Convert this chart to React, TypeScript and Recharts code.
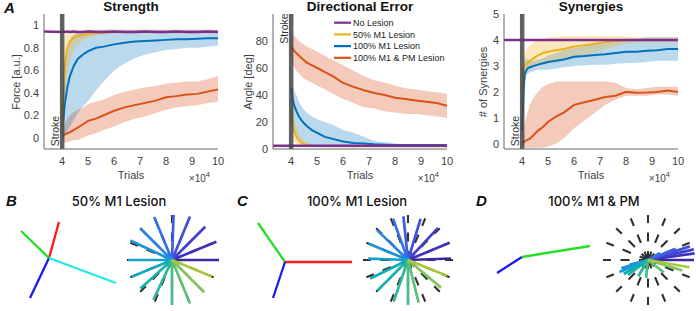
import React from 'react';
import {
  ComposedChart,
  Line,
  Area,
  XAxis,
  YAxis,
  ReferenceLine,
  ScatterChart,
  Scatter,
} from 'recharts';

// ---- top row: learning curves (x in units of 1e4 trials) ----
const trials = [3.3, 4, 4.05, 4.1, 4.2, 4.3, 4.45, 4.6, 4.8, 5, 5.3, 5.6, 6, 6.4, 6.8, 7.2, 7.6, 8, 8.4, 8.8, 9.2, 9.6, 10];
const trialTicks = [4, 5, 6, 7, 8, 9, 10];
const strokeTrial = 4;

const seriesNames = ['No Lesion', '50% M1 Lesion', '100% M1 Lesion', '100% M1 & PM Lesion'];
const seriesColors = ['#7E2F8E', '#EDB120', '#0072BD', '#D95319'];

// Strength
const strengthNone = [0.945, 0.94, 0.945, 0.94, 0.945, 0.94, 0.945, 0.94, 0.94, 0.945, 0.94, 0.94, 0.945, 0.94, 0.94, 0.945, 0.94, 0.94, 0.945, 0.94, 0.94, 0.945, 0.94];
const strengthM50 = [null, 0.05, 0.4, 0.65, 0.8, 0.86, 0.89, 0.905, 0.915, 0.92, 0.93, 0.935, 0.94, 0.94, 0.94, 0.94, 0.94, 0.94, 0.94, 0.94, 0.94, 0.94, 0.94];
const strengthM50Lo = [null, 0.0, 0.15, 0.35, 0.55, 0.68, 0.78, 0.83, 0.87, 0.89, 0.91, 0.92, 0.925, 0.93, 0.93, 0.93, 0.93, 0.93, 0.93, 0.93, 0.93, 0.93, 0.93];
const strengthM50Hi = [null, 0.1, 0.75, 0.9, 0.95, 0.96, 0.96, 0.96, 0.96, 0.96, 0.96, 0.96, 0.96, 0.96, 0.96, 0.96, 0.96, 0.96, 0.96, 0.96, 0.96, 0.96, 0.96];
const strengthM100 = [null, 0.05, 0.18, 0.3, 0.45, 0.55, 0.64, 0.7, 0.74, 0.77, 0.8, 0.81, 0.83, 0.845, 0.855, 0.86, 0.865, 0.87, 0.875, 0.875, 0.88, 0.885, 0.885];
const strengthM100Lo = [null, 0.0, 0.0, 0.02, 0.06, 0.1, 0.16, 0.22, 0.28, 0.33, 0.42, 0.5, 0.6, 0.66, 0.71, 0.74, 0.76, 0.78, 0.79, 0.8, 0.8, 0.81, 0.82];
const strengthM100Hi = [null, 0.1, 0.4, 0.62, 0.8, 0.88, 0.92, 0.94, 0.95, 0.96, 0.96, 0.96, 0.96, 0.96, 0.96, 0.96, 0.96, 0.96, 0.96, 0.96, 0.96, 0.96, 0.96];
const strengthPm = [null, 0.01, 0.02, 0.03, 0.04, 0.05, 0.07, 0.09, 0.12, 0.15, 0.17, 0.2, 0.24, 0.27, 0.29, 0.31, 0.33, 0.36, 0.37, 0.385, 0.39, 0.41, 0.43];
const strengthPmLo = [null, -0.03, -0.04, -0.04, -0.04, -0.03, -0.02, -0.02, 0.0, 0.02, 0.04, 0.07, 0.1, 0.14, 0.17, 0.19, 0.22, 0.25, 0.27, 0.28, 0.29, 0.31, 0.32];
const strengthPmHi = [null, 0.05, 0.08, 0.12, 0.17, 0.2, 0.23, 0.25, 0.27, 0.3, 0.32, 0.34, 0.38, 0.41, 0.43, 0.45, 0.46, 0.48, 0.49, 0.5, 0.5, 0.52, 0.55];

// Directional error
const errorNone = [2.5, 2.5, 2.5, 2.5, 2.5, 2.5, 2.5, 2.5, 2.5, 2.5, 2.5, 2.5, 2.5, 2.5, 2.5, 2.5, 2.5, 2.5, 2.5, 2.5, 2.5, 2.5, 2.5];
const errorM50 = [null, 30, 20, 14, 9, 6, 4, 3, 2.5, 2.2, 2, 2, 2, 2, 2, 2, 2, 2, 2, 2, 2, 2, 2];
const errorM50Lo = [null, 20, 10, 6, 3, 2, 1.5, 1.5, 1.5, 1.5, 1.5, 1.5, 1.5, 1.5, 1.5, 1.5, 1.5, 1.5, 1.5, 1.5, 1.5, 1.5, 1.5];
const errorM50Hi = [null, 42, 32, 24, 16, 11, 7, 5, 3.5, 3, 2.5, 2.5, 2.5, 2.5, 2.5, 2.5, 2.5, 2.5, 2.5, 2.5, 2.5, 2.5, 2.5];
const errorM100 = [null, 45, 38, 33, 28, 24, 20, 17, 14, 12, 9, 7.5, 5.5, 4.5, 4, 3.5, 3.2, 3, 3, 3, 3, 3, 3];
const errorM100Lo = [null, 30, 20, 14, 9, 6, 4, 3, 2.5, 2.2, 2, 2, 2, 2, 2, 2, 2, 2, 2, 2, 2, 2, 2];
const errorM100Hi = [null, 52, 48, 44, 40, 35, 30, 27, 24, 22, 20, 18, 14, 12, 9, 6, 5, 4, 3.5, 3.5, 3.5, 3.5, 3.5];
const errorPm = [null, 76, 75, 73, 71, 69, 66.5, 64, 62, 60, 57, 54, 49, 46, 43.5, 41.5, 40, 38, 37, 36, 35, 34, 32];
const errorPmLo = [null, 64, 63, 61, 58, 56, 53, 51, 49, 47, 44, 41, 37, 34, 31, 30, 28, 27, 26, 26, 25, 24, 23];
const errorPmHi = [null, 86, 85, 84, 82, 80, 78, 76, 74, 72, 69, 66, 62, 58, 54, 51, 49, 47, 45, 44, 43, 42, 41];

// Synergies
const synNone = [4, 4, 4, 4, 4, 4, 4, 4, 4, 4, 4, 4, 4, 4, 4, 4, 4, 4, 4, 4, 4, 4, 4];
const synM50 = [null, 2.0, 2.9, 3.0, 3.1, 3.2, 3.3, 3.4, 3.5, 3.55, 3.6, 3.65, 3.75, 3.8, 3.85, 3.92, 3.96, 3.98, 4.0, 4.0, 4.0, 4.0, 4.0];
const synM50Lo = [null, 1.5, 2.6, 2.75, 2.85, 2.9, 2.95, 3.0, 3.05, 3.1, 3.15, 3.2, 3.3, 3.4, 3.5, 3.65, 3.75, 3.85, 3.9, 3.9, 3.9, 3.9, 3.9];
const synM50Hi = [null, 2.6, 3.3, 3.5, 3.7, 3.8, 3.9, 4.0, 4.05, 4.1, 4.12, 4.15, 4.15, 4.15, 4.15, 4.15, 4.15, 4.12, 4.1, 4.1, 4.1, 4.1, 4.1];
const synM100 = [null, 0.5, 2.0, 2.7, 2.9, 2.95, 3.0, 3.05, 3.1, 3.15, 3.2, 3.25, 3.35, 3.38, 3.42, 3.45, 3.5, 3.55, 3.55, 3.58, 3.6, 3.65, 3.65];
const synM100Lo = [null, 0.2, 1.5, 2.4, 2.7, 2.75, 2.8, 2.85, 2.85, 2.85, 2.9, 2.95, 3.0, 3.02, 3.05, 3.05, 3.08, 3.1, 3.12, 3.15, 3.2, 3.2, 3.2];
const synM100Hi = [null, 0.9, 2.6, 3.3, 3.25, 3.2, 3.2, 3.25, 3.3, 3.4, 3.5, 3.6, 3.7, 3.75, 3.85, 3.9, 3.95, 4.05, 4.05, 4.1, 4.1, 4.1, 4.1];
const synPm = [null, 0.05, 0.05, 0.1, 0.15, 0.2, 0.35, 0.5, 0.65, 0.85, 1.05, 1.2, 1.5, 1.6, 1.7, 1.8, 1.85, 2.0, 1.97, 1.98, 2.0, 2.05, 2.0];
const synPmLo = [null, 0, -0.1, -0.15, -0.15, -0.15, -0.15, -0.15, -0.15, -0.1, 0.0, 0.2, 0.6, 0.9, 1.2, 1.5, 1.7, 1.85, 1.85, 1.85, 1.9, 1.9, 1.85];
const synPmHi = [null, 0.2, 0.5, 0.8, 1.2, 1.5, 1.8, 2.0, 2.2, 2.3, 2.4, 2.4, 2.4, 2.4, 2.4, 2.4, 2.35, 2.15, 2.1, 2.15, 2.2, 2.2, 2.2];

// ---- bottom row: synergy vectors and reach directions ----
const synergyBX = [10, -28, -19, 67];
const synergyBY = [36, 27, -40, -25];
const synergyBColors = ['#ff1a1a', '#22e022', '#1a1aee', '#22e8e8'];
const synergyCX = [-27, 67, -12];
const synergyCY = [39, 0, -36];
const synergyCColors = ['#22e022', '#ff1a1a', '#1a1aee'];
const synergyDX = [-25, 68];
const synergyDY = [-16, 11];
const synergyDColors = ['#1a1aee', '#22e022'];

const targetAngles = [0, 22.5, 45, 67.5, 90, 112.5, 135, 157.5, 180, 202.5, 225, 247.5, 270, 292.5, 315, 337.5];
const targetRadius = 45;
const reachBAngles = [0, 22.5, 45, 67.5, 88, 112.5, 135, 155, 180, 202.5, 222, 245, 270, 292.5, 315, 337.5];
const reachBLengths = [47, 48, 47, 47, 45, 46.5, 45, 46, 44, 43.5, 42.5, 44, 45, 47, 45.5, 43];
const reachCAngles = [2, 22.5, 47, 73, 96, 110, 136, 157.5, 178, 206, 225, 251, 270, 284, 320, 338];
const reachCLengths = [43, 45, 44, 43, 44, 44, 43, 43, 40, 42, 43, 44, 45, 44, 43, 42];
const reachDAngles = [0, 8, 13, 18, 22, 30, 195, 197, 203, 210, 217, 239, 264, 322, 343, 350];
const reachDLengths = [46, 47, 47, 44, 30, 14, 19, 28, 31, 28, 25, 19, 18, 20, 36, 42];
const spokeColors = [
  '#3a2a9e', '#3d33b8', '#4040cc', '#434fdc', '#3f5ee6', '#3470e6', '#2a81e0', '#1e92d8',
  '#16a0cc', '#10aabd', '#18b2ab', '#2bb898', '#46bd86', '#60c076', '#82c45e', '#a8c83c',
];

const axisFont = '"Liberation Sans", Arial, Helvetica, sans-serif';
const tickStyle = { fontSize: 11, fill: '#404040', fontFamily: axisFont };

type Num = number | null;

const buildRows = (
  none: Num[], m50: Num[], m50Lo: Num[], m50Hi: Num[],
  m100: Num[], m100Lo: Num[], m100Hi: Num[],
  pm: Num[], pmLo: Num[], pmHi: Num[],
) =>
  trials.map((x, i) => ({
    x,
    none: none[i],
    m50: m50[i],
    m50Band: m50[i] == null ? null : [m50Lo[i], m50Hi[i]],
    m100: m100[i],
    m100Band: m100[i] == null ? null : [m100Lo[i], m100Hi[i]],
    pm: pm[i],
    pmBand: pm[i] == null ? null : [pmLo[i], pmHi[i]],
  }));

const strengthRows = buildRows(strengthNone, strengthM50, strengthM50Lo, strengthM50Hi, strengthM100, strengthM100Lo, strengthM100Hi, strengthPm, strengthPmLo, strengthPmHi);
const errorRows = buildRows(errorNone, errorM50, errorM50Lo, errorM50Hi, errorM100, errorM100Lo, errorM100Hi, errorPm, errorPmLo, errorPmHi);
const synRows = buildRows(synNone, synM50, synM50Lo, synM50Hi, synM100, synM100Lo, synM100Hi, synPm, synPmLo, synPmHi);

const strokeLabel = (atTop: boolean) => (props: any) => {
  const vb = props.viewBox || { x: 0, y: 0, height: 0 };
  const x = vb.x - 3.5;
  const cy = atTop ? vb.y + 14.5 : vb.y + vb.height - 18;
  return (
    <text x={x} y={cy} transform={`rotate(-90 ${x} ${cy})`} textAnchor="middle" fontSize={10.5} fill="#333" fontFamily={axisFont}>
      Stroke
    </text>
  );
};

interface TrendProps {
  left: number;
  rows: any[];
  yDomain: [number, number];
  yTicks: number[];
  strokeAtTop?: boolean;
}

const TrendPanel = ({ left, rows, yDomain, yTicks, strokeAtTop = false }: TrendProps) => (
  <div style={{ position: 'absolute', left, top: 0 }}>
    <ComposedChart width={230} height={185} data={rows} margin={{ top: 14, right: 12, bottom: 0, left: 0 }}>
      <XAxis
        type="number"
        dataKey="x"
        domain={[3.3, 10]}
        ticks={trialTicks}
        interval={0}
        allowDataOverflow
        height={36}
        tickLine={false}
        tickSize={0}
        tickMargin={8}
        stroke="#666"
        tick={tickStyle}
      />
      <YAxis
        type="number"
        domain={yDomain}
        ticks={yTicks}
        interval={0}
        allowDataOverflow
        width={44}
        tickLine={false}
        tickSize={0}
        tickMargin={5}
        stroke="#666"
        tick={tickStyle}
      />
      <Area type="linear" dataKey="pmBand" stroke="none" fill={seriesColors[3]} fillOpacity={0.3} isAnimationActive={false} legendType="none" />
      <Area type="linear" dataKey="m100Band" stroke="none" fill={seriesColors[2]} fillOpacity={0.27} isAnimationActive={false} legendType="none" />
      <Area type="linear" dataKey="m50Band" stroke="none" fill={seriesColors[1]} fillOpacity={0.3} isAnimationActive={false} legendType="none" />
      <Line type="linear" dataKey="pm" stroke={seriesColors[3]} strokeWidth={2} dot={false} isAnimationActive={false} />
      <Line type="linear" dataKey="m100" stroke={seriesColors[2]} strokeWidth={2} dot={false} isAnimationActive={false} />
      <Line type="linear" dataKey="m50" stroke={seriesColors[1]} strokeWidth={2} dot={false} isAnimationActive={false} />
      <Line type="linear" dataKey="none" stroke={seriesColors[0]} strokeWidth={2.5} dot={false} isAnimationActive={false} />
      <ReferenceLine x={strokeTrial} stroke="#454545" strokeOpacity={0.85} strokeWidth={4.5} label={strokeLabel(strokeAtTop)} />
    </ComposedChart>
  </div>
);

interface Segment {
  points: { x: number; y: number }[];
  color: string;
  width: number;
  dash?: string;
}

const noDot = () => <g />;

const polar = (deg: number, len: number) => ({
  x: len * Math.cos((deg * Math.PI) / 180),
  y: len * Math.sin((deg * Math.PI) / 180),
});

const synergySegments = (xs: number[], ys: number[], colors: string[]): Segment[] =>
  xs.map((dx, i) => ({ points: [{ x: 0, y: 0 }, { x: dx, y: ys[i] }], color: colors[i], width: 2.3 }));

const targetSegments: Segment[] = targetAngles.map((a) => ({
  points: [{ x: 0, y: 0 }, polar(a, targetRadius)],
  color: '#303030',
  width: 2.1,
  dash: '9 9.5',
}));

const reachSegments = (angles: number[], lengths: number[]): Segment[] =>
  angles.map((a, i) => ({
    points: [{ x: 0, y: 0 }, polar(a, lengths[i])],
    color: spokeColors[i],
    width: 2.7,
  }));

interface VectorProps {
  left: number;
  top: number;
  xDomain: [number, number];
  yDomain: [number, number];
  segments: Segment[];
}

const VectorPlot = ({ left, top, xDomain, yDomain, segments }: VectorProps) => (
  <div style={{ position: 'absolute', left, top }}>
    <ScatterChart
      width={xDomain[1] - xDomain[0]}
      height={yDomain[1] - yDomain[0]}
      margin={{ top: 0, right: 0, bottom: 0, left: 0 }}
    >
      <XAxis type="number" dataKey="x" domain={xDomain} allowDataOverflow hide />
      <YAxis type="number" dataKey="y" domain={yDomain} allowDataOverflow hide />
      {segments.map((s, i) => (
        <Scatter
          key={i}
          data={s.points}
          fill={s.color}
          line={s.dash ? { stroke: s.color, strokeWidth: s.width, strokeDasharray: s.dash } : { stroke: s.color, strokeWidth: s.width }}
          shape={noDot}
          isAnimationActive={false}
        />
      ))}
    </ScatterChart>
  </div>
);

// target star underneath, reach star drawn as a separate layer on top
const StarPlot = ({ left, top, angles, lengths }: { left: number; top: number; angles: number[]; lengths: number[] }) => (
  <>
    <VectorPlot left={left} top={top} xDomain={[-50, 50]} yDomain={[-50, 50]} segments={targetSegments} />
    <VectorPlot left={left} top={top} xDomain={[-50, 50]} yDomain={[-50, 50]} segments={reachSegments(angles, lengths)} />
  </>
);

const panelLetter = { fontSize: 15, fontWeight: 700, fontStyle: 'italic' as const, fill: '#111', fontFamily: axisFont };
const titleStyle = { fontSize: 13.5, fontWeight: 700, fill: '#111', fontFamily: axisFont };
const subTitleStyle = { fontSize: 13, fontWeight: 500, fill: '#111', fontFamily: 'Inter, "Noto Sans", sans-serif' };
const labelStyle = { fontSize: 11, fill: '#404040', fontFamily: axisFont };

const plotCenters = [131, 360, 591];
const plotRights = [218, 447, 678];

const App = () => (
  <div
    style={{
      position: 'absolute',
      left: 0,
      top: 0,
      width: 696,
      height: 311,
      background: '#fff',
      overflow: 'hidden',
      fontFamily: axisFont,
    }}
  >
    <TrendPanel left={0} rows={strengthRows} yDomain={[-0.1, 1.1]} yTicks={[0, 0.2, 0.4, 0.6, 0.8, 1]} />
    <TrendPanel left={229} rows={errorRows} yDomain={[0, 100]} yTicks={[0, 20, 40, 60, 80]} strokeAtTop />
    <TrendPanel left={460} rows={synRows} yDomain={[-0.2, 5]} yTicks={[0, 1, 2, 3, 4, 5]} />

    <VectorPlot left={4} top={208} xDomain={[-45, 85]} yDomain={[-50, 50]} segments={synergySegments(synergyBX, synergyBY, synergyBColors)} />
    <StarPlot left={122} top={210} angles={reachBAngles} lengths={reachBLengths} />
    <VectorPlot left={240} top={212} xDomain={[-45, 85]} yDomain={[-50, 50]} segments={synergySegments(synergyCX, synergyCY, synergyCColors)} />
    <StarPlot left={358} top={210} angles={reachCAngles} lengths={reachCLengths} />
    <VectorPlot left={477} top={207} xDomain={[-45, 85]} yDomain={[-50, 50]} segments={synergySegments(synergyDX, synergyDY, synergyDColors)} />
    <StarPlot left={598} top={210} angles={reachDAngles} lengths={reachDLengths} />

    <svg width={696} height={311} style={{ position: 'absolute', left: 0, top: 0, pointerEvents: 'none' }}>
      <text x={4} y={13} {...panelLetter}>A</text>
      <text x={plotCenters[0]} y={11} textAnchor="middle" {...titleStyle}>Strength</text>
      <text x={plotCenters[1]} y={11} textAnchor="middle" {...titleStyle}>Directional Error</text>
      <text x={plotCenters[2]} y={11} textAnchor="middle" {...titleStyle}>Synergies</text>

      <text x={20} y={82} transform="rotate(-90 20 82)" textAnchor="middle" {...labelStyle}>Force [a.u.]</text>
      <text x={252} y={82} transform="rotate(-90 252 82)" textAnchor="middle" {...labelStyle}>Angle [deg]</text>
      <text x={487} y={82} transform="rotate(-90 487 82)" textAnchor="middle" {...labelStyle}># of Synergies</text>

      {plotCenters.map((cx, i) => (
        <g key={i}>
          <text x={cx} y={179} textAnchor="middle" {...labelStyle}>Trials</text>
          <text x={plotRights[i] - 8} y={182} textAnchor="end" {...labelStyle} fontSize={10}>
            ×10<tspan dy={-5} fontSize={7.5}>4</tspan>
          </text>
        </g>
      ))}

      {seriesNames.map((name, i) => (
        <g key={name}>
          <line x1={334} x2={351} y1={22.7 + i * 11.7} y2={22.7 + i * 11.7} stroke={seriesColors[i]} strokeWidth={2.2} />
          <text x={353} y={22.7 + i * 11.7 + 3.2} fontSize={9} fill="#222" fontFamily={axisFont}>{name}</text>
        </g>
      ))}

      <text x={6} y={206} {...panelLetter}>B</text>
      <text x={119} y={206} textAnchor="middle" {...subTitleStyle}>50% M1 Lesion</text>
      <text x={237} y={206} {...panelLetter}>C</text>
      <text x={357} y={206} textAnchor="middle" {...subTitleStyle}>100% M1 Lesion</text>
      <text x={476} y={206} {...panelLetter}>D</text>
      <text x={594} y={206} textAnchor="middle" {...subTitleStyle}>100% M1 &amp; PM</text>
    </svg>
  </div>
);

export default App;
